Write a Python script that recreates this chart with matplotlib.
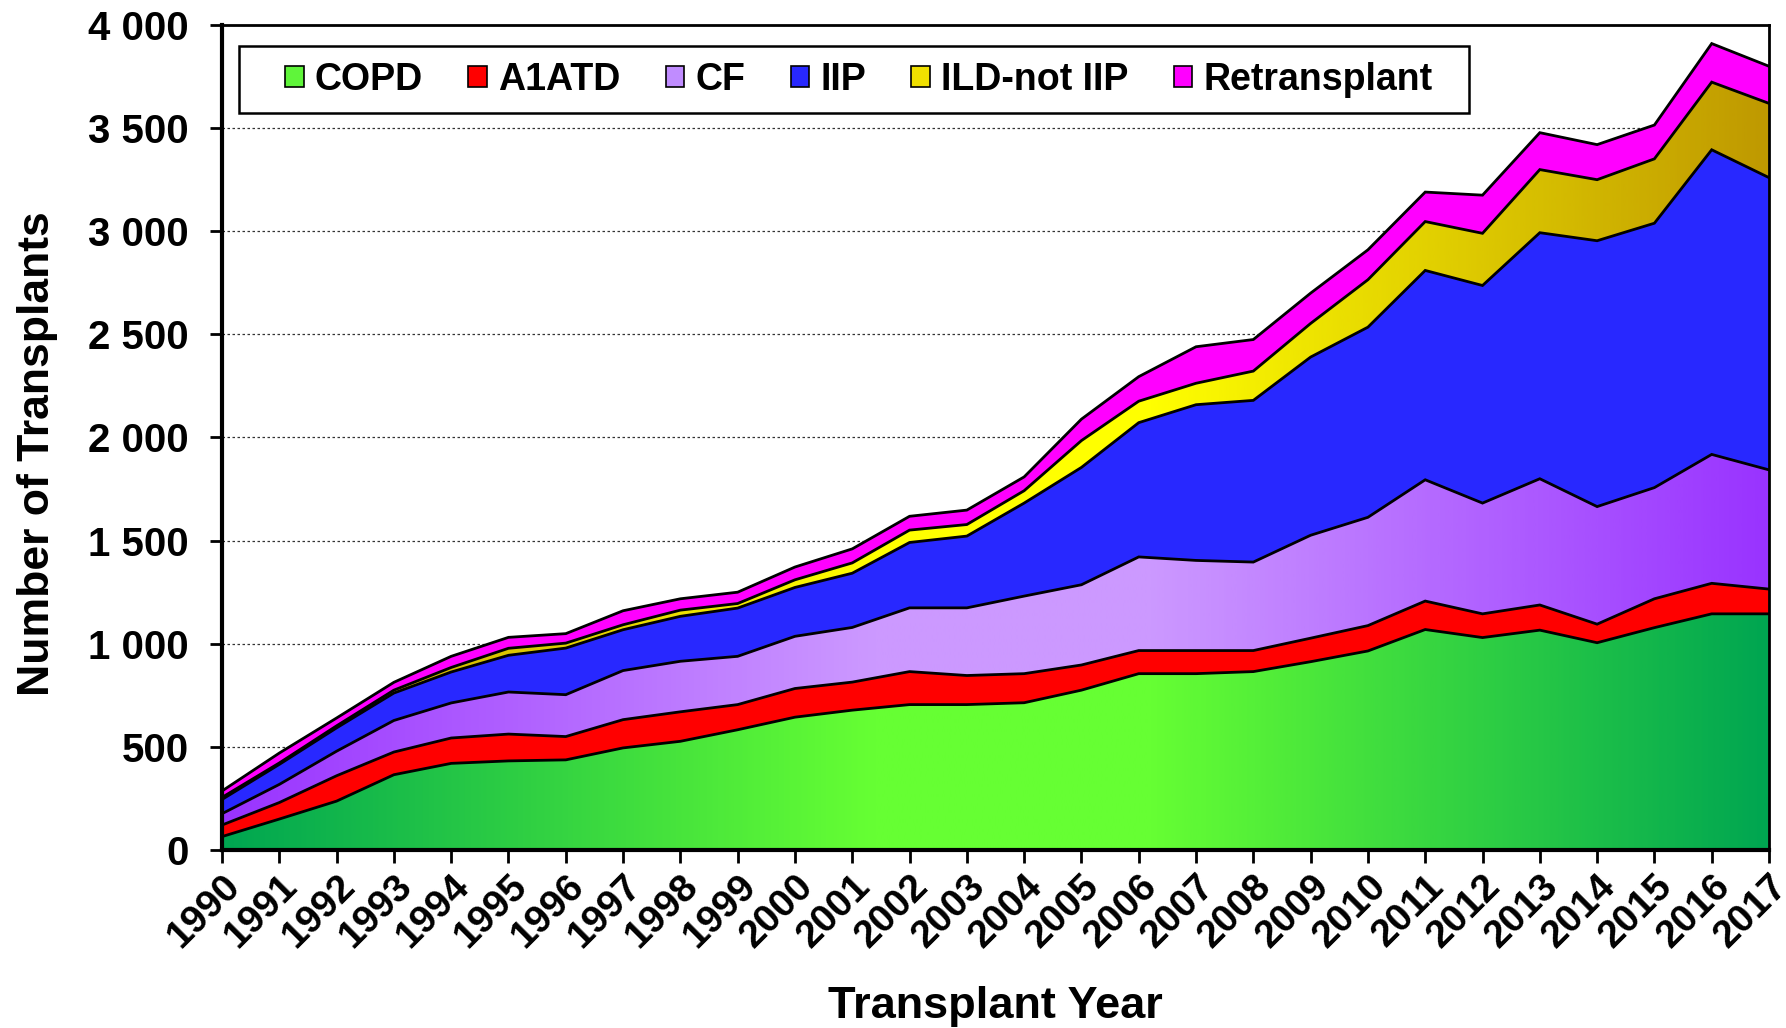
import numpy as np
import matplotlib
matplotlib.use('Agg')
import matplotlib.pyplot as plt
from matplotlib.patches import Patch, Rectangle
from matplotlib.colors import LinearSegmentedColormap

years = list(range(1990, 2018))
copd = [65, 150, 237, 365, 420, 432, 437, 495, 527, 583, 644, 678, 705, 705,
        714, 775, 855, 855, 865, 913, 965, 1069, 1030, 1066, 1005, 1078, 1145, 1145]
a1atd = [56, 80, 123, 110, 123, 130, 113, 137, 143, 122, 139, 136, 160, 141,
         141, 122, 112, 112, 102, 114, 123, 138, 115, 122, 90, 140, 148, 120]
cf = [55, 88, 119, 153, 170, 204, 203, 238, 245, 234, 253, 265, 309, 328,
      376, 389, 454, 437, 429, 499, 525, 588, 537, 612, 570, 539, 625, 578]
iip = [69, 97, 113, 133, 150, 178, 226, 198, 218, 234, 237, 263, 317, 348,
       451, 569, 651, 755, 784, 864, 922, 1015, 1055, 1193, 1289, 1282, 1477, 1417]
ild = [10, 7, 10, 14, 22, 34, 24, 24, 30, 22, 37, 50, 60, 56,
       60, 130, 104, 104, 142, 163, 230, 237, 253, 306, 296, 312, 328, 360]
retx = [31, 48, 38, 38, 54, 53, 46, 68, 55, 55, 62, 68, 67, 70,
        67, 104, 119, 177, 153, 147, 145, 143, 185, 179, 170, 164, 187, 180]
labels = ['COPD', 'A1ATD', 'CF', 'IIP', 'ILD-not IIP', 'Retransplant']
y_ticks = [0, 500, 1000, 1500, 2000, 2500, 3000, 3500, 4000]

# (edge colour, centre colour) for gradient fills; single colour otherwise
styles = [('#00A651', '#66FF33'), ('#FF0000', None), ('#9933FF', '#CC99FF'),
          ('#2828FF', None), ('#BF9900', '#FFFF00'), ('#FF00FF', None)]
legend_colors = ['#5FF53A', '#FF0000', '#C08CFF', '#2828FF', '#F0E000', '#FF00FF']

plt.rcParams['font.family'] = ['Liberation Sans', 'DejaVu Sans']
plt.rcParams['font.weight'] = 'bold'

W, H = 1786, 1028
fig = plt.figure(figsize=(W / 100, H / 100), dpi=100)
L, R, T, B = 222, 1769, 25, 850
ax = fig.add_axes([L / W, (H - B) / H, (R - L) / W, (B - T) / H])

x = np.array(years, dtype=float)
series = [copd, a1atd, cf, iip, ild, retx]
bottom = np.zeros(len(x))
grad = np.linspace(0, 1, 600).reshape(1, -1)
for vals, (c1, c2) in zip(series, styles):
    top = bottom + np.array(vals, dtype=float)
    if c2 is not None:
        poly = ax.fill_between(x, bottom, top, facecolor='none', edgecolor='none', zorder=2)
        cmap = LinearSegmentedColormap.from_list(
            'g', [(0, c1), (0.42, c2), (0.6, c2), (1, c1)])
        im = ax.imshow(grad, extent=[x[0], x[-1], 0, 4000], aspect='auto', cmap=cmap,
                       origin='lower', zorder=2, interpolation='bilinear')
        im.set_clip_path(poly.get_paths()[0], ax.transData)
    else:
        ax.fill_between(x, bottom, top, facecolor=c1, edgecolor='none', zorder=2)
    ax.plot(x, top, color='black', lw=2.0, zorder=3, solid_joinstyle='miter')
    bottom = top

ax.set_xlim(1990, 2017)
ax.set_ylim(0, 4000)
ax.set_yticks(y_ticks)
ax.set_yticklabels([f"{v:,}".replace(',', ' ') for v in y_ticks], fontsize=29, fontweight='bold')
ax.set_xticks(years)
ax.set_xticklabels([str(y) for y in years], rotation=45, ha='right', va='top',
                   rotation_mode='anchor', fontsize=28, fontweight='bold')
ax.tick_params(axis='both', direction='out', length=9, width=2, color='black')
ax.tick_params(axis='y', pad=15)
ax.tick_params(axis='x', pad=4)

ax.yaxis.grid(True, linestyle=(0, (2, 2)), color='#333333', lw=0.9)
ax.set_axisbelow(True)
for side in ['left', 'bottom']:
    ax.spines[side].set_linewidth(3)
for side in ['top', 'right']:
    ax.spines[side].set_linewidth(2)
for sp in ax.spines.values():
    sp.set_zorder(5)

ax.set_ylabel('Number of Transplants', fontsize=32, fontweight='bold')
ax.yaxis.set_label_coords(-0.106, 0.48)
ax.set_xlabel('Transplant Year', fontsize=32.5, fontweight='bold')
ax.xaxis.set_label_coords(0.5, -0.165)

# legend frame (wider side padding than matplotlib's uniform borderpad)
fx0 = (239 - L) / (R - L)
fx1 = (1469 - L) / (R - L)
fy0 = (B - 113) / (B - T)
fy1 = (B - 46) / (B - T)
ax.add_patch(Rectangle((fx0, fy0), fx1 - fx0, fy1 - fy0, transform=ax.transAxes,
                       facecolor='white', edgecolor='black', lw=1.8, zorder=6))

handles = [Patch(facecolor=c, edgecolor='black', lw=1.2) for c in legend_colors]
leg = ax.legend(handles, labels, ncol=6, loc='center left',
                bbox_to_anchor=((285 - L) / (R - L), (B - 80) / (B - T)),
                fontsize=27, frameon=False,
                handlelength=0.5, handleheight=0.5, handletextpad=0.3, columnspacing=1.2,
                borderpad=0, borderaxespad=0)
for t in leg.get_texts():
    t.set_fontweight('bold')
leg.set_zorder(7)

fig.savefig('out.png', dpi=100)
